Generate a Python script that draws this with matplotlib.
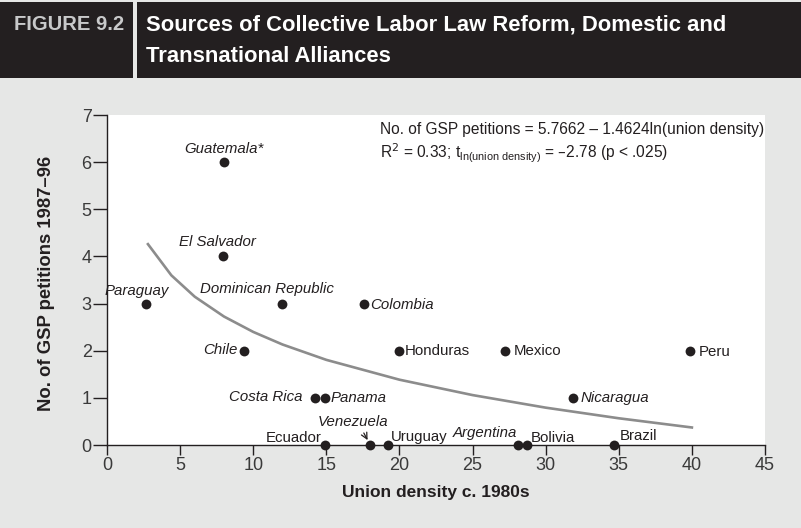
import numpy as np
import matplotlib.pyplot as plt
from matplotlib.patches import Rectangle

countries = ["Guatemala*", "El Salvador", "Paraguay", "Dominican Republic", "Colombia",
             "Chile", "Honduras", "Mexico", "Peru", "Costa Rica", "Panama", "Nicaragua",
             "Ecuador", "Venezuela", "Uruguay", "Argentina", "Bolivia", "Brazil"]
union_density = [8.0, 7.9, 2.7, 12.0, 17.6, 9.4, 20.0, 27.2, 39.9, 14.2, 14.9, 31.9,
                 14.9, 18.0, 19.2, 28.1, 28.7, 34.7]
petitions = [6, 4, 3, 3, 3, 2, 2, 2, 2, 1, 1, 1, 0, 0, 0, 0, 0, 0]
italic = [True, True, True, True, True, True, False, False, False, True, True, True,
          False, True, False, True, False, False]

# fitted line, from the equation printed on the chart
fit_a, fit_b = 5.7662, 1.4624
fit_x = [2.8, 4.4, 6, 8, 10, 12, 15, 20, 25, 30, 35, 40]

# label placement: (dx px, dy px, ha)
label_pos = {
    "Guatemala*": (0, 13, "center"), "El Salvador": (-5, 14, "center"),
    "Paraguay": (-10, 13, "center"), "Dominican Republic": (-16, 15, "center"),
    "Colombia": (6, -1, "left"), "Chile": (-7, 1, "right"),
    "Honduras": (5, 0, "left"), "Mexico": (9, 0, "left"), "Peru": (8, -1, "left"),
    "Costa Rica": (-12, 1, "right"), "Panama": (6, 0, "left"),
    "Nicaragua": (7, 0, "left"), "Ecuador": (-3, 7, "right"),
    "Venezuela": (-17, 23, "center"), "Uruguay": (3, 8, "left"),
    "Argentina": (-1, 12, "right"), "Bolivia": (4, 7, "left"), "Brazil": (5, 9, "left"),
}

DARK = "#231f20"
BG = "#e6e7e6"
fam = ["Liberation Sans", "DejaVu Sans"]

fig = plt.figure(figsize=(8.01, 5.28), dpi=100, facecolor=BG)
W, H = 801, 528

def fx(px):
    return px / W

def fy(py):
    return 1 - py / H

# header
fig.add_artist(Rectangle((0, fy(78)), 1, fy(2) - fy(78), transform=fig.transFigure,
                         facecolor=DARK, edgecolor="none"))
fig.add_artist(Rectangle((fx(133), fy(78)), fx(4), fy(2) - fy(78), transform=fig.transFigure,
                         facecolor=BG, edgecolor="none"))
fig.text(fx(14), fy(30), "FIGURE 9.2", color="#c8c9ca", fontsize=14.5, fontweight="bold",
         family=fam, va="baseline")
fig.text(fx(146), fy(30), "Sources of Collective Labor Law Reform, Domestic and",
         color="white", fontsize=15.8, fontweight="bold", family=fam, va="baseline")
fig.text(fx(146), fy(62), "Transnational Alliances",
         color="white", fontsize=15.8, fontweight="bold", family=fam, va="baseline")

ax = fig.add_axes([fx(107), fy(445), fx(765) - fx(107), fy(115) - fy(445)])
ax.set_facecolor("white")
ax.set_xlim(0, 45)
ax.set_ylim(0, 7)
ax.set_xticks(range(0, 46, 5))
ax.set_yticks(range(0, 8))
for s in ["top", "right"]:
    ax.spines[s].set_visible(False)
for s in ["left", "bottom"]:
    ax.spines[s].set_color(DARK)
    ax.spines[s].set_linewidth(1.0)
ax.tick_params(axis="y", direction="out", length=10, width=1.0, pad=1, color=DARK,
               labelcolor="#3a3a3a", labelsize=13)
ax.tick_params(axis="x", direction="out", length=7, width=1.0, pad=2, color=DARK,
               labelcolor="#3a3a3a", labelsize=13)
for lab in ax.get_xticklabels() + ax.get_yticklabels():
    lab.set_family(fam)

fit_y = [fit_a - fit_b * np.log(v) for v in fit_x]
ax.plot(fit_x, fit_y, color="#8c8c8c", lw=1.9, zorder=2)

ax.scatter(union_density, petitions, s=50, color=DARK, zorder=4, clip_on=False,
           linewidths=0)

for name, x, y, it in zip(countries, union_density, petitions, italic):
    dx, dy, ha = label_pos[name]
    style = "italic" if it else "normal"
    if name == "Venezuela":
        ax.annotate(name, xy=(x, y), xytext=(dx * 0.72, dy * 0.72),
                    textcoords="offset points", ha=ha, va="center", fontsize=10.8,
                    style=style, family=fam, color=DARK, annotation_clip=False,
                    arrowprops=dict(arrowstyle="->", color=DARK, lw=0.9,
                                    shrinkA=1, shrinkB=4, relpos=(0.62, 0)))
    else:
        ax.annotate(name, xy=(x, y), xytext=(dx * 0.72, dy * 0.72),
                    textcoords="offset points", ha=ha, va="center", fontsize=10.8,
                    style=style, family=fam, color=DARK, annotation_clip=False)

ax.text(fx(380), fy(129), "No. of GSP petitions = 5.7662 \u2013 1.4624ln(union density)",
        transform=fig.transFigure, fontsize=11.2, family=fam, color=DARK, va="center")
ax.text(fx(380), fy(153),
        "R$^{2}$ = 0.33; t$_{\\mathregular{ln(union\\ density)}}$ = \u20132.78 (p < .025)",
        transform=fig.transFigure, fontsize=11.2, family=fam, color=DARK, va="center")

fig.text(fx(47), fy(283), "No. of GSP petitions 1987\u201396", rotation=90, ha="center",
         va="center", fontsize=13.3, fontweight="bold", family=fam, color=DARK)
fig.text(fx(436), fy(492), "Union density c. 1980s", ha="center", va="center",
         fontsize=12.5, fontweight="bold", family=fam, color=DARK)

fig.savefig("out.png", dpi=100, facecolor=BG)
